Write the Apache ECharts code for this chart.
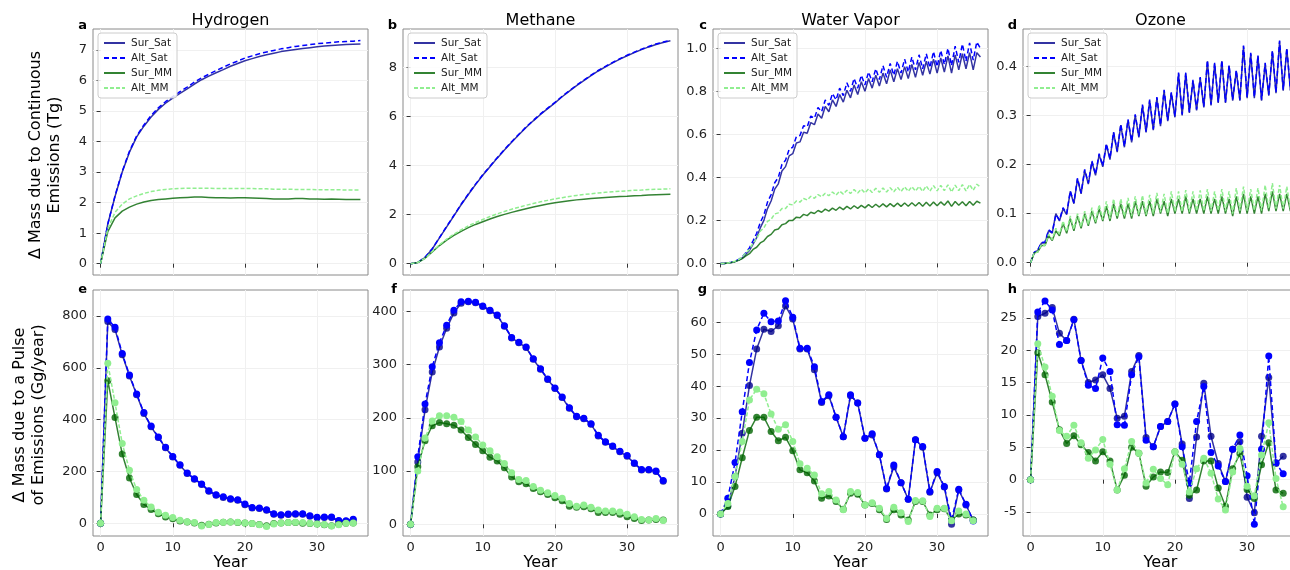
<!DOCTYPE html>
<html><head><meta charset="utf-8">
<script src="https://cdn.jsdelivr.net/npm/echarts@6/dist/echarts.min.js"></script>
<style>html,body{margin:0;padding:0;background:#fff}#chart{width:1290px;height:570px}</style>
</head><body><div id="chart"></div>
<script>
// ---------- x values ----------
const yearsPulse = [0,1,2,3,4,5,6,7,8,9,10,11,12,13,14,15,16,17,18,19,20,21,22,23,24,25,26,27,28,29,30,31,32,33,34,35];
const yearsAnnual = [0,1,2,3,4,5,6,7,8,9,10,11,12,13,14,15,16,17,18,19,20,21,22,23,24,25,26,27,28,29,30,31,32,33,34,35,36];
const yearsHalf = [0,0.5,1,1.5,2,2.5,3,3.5,4,4.5,5,5.5,6,6.5,7,7.5,8,8.5,9,9.5,10,10.5,11,11.5,12,12.5,13,13.5,14,14.5,15,15.5,16,16.5,17,17.5,18,18.5,19,19.5,20,20.5,21,21.5,22,22.5,23,23.5,24,24.5,25,25.5,26,26.5,27,27.5,28,28.5,29,29.5,30,30.5,31,31.5,32,32.5,33,33.5,34,34.5,35,35.5,36];

// ---------- series names / titles ----------
const seriesNames = ['Sur_Sat','Alt_Sat','Sur_MM','Alt_MM'];
const pulseSeriesNames = ['Sur_Sat (pulse)','Alt_Sat (pulse)','Sur_MM (pulse)','Alt_MM (pulse)'];
const speciesTitles = ['Hydrogen','Methane','Water Vapor','Ozone'];
const panelLetters = ['a','b','c','d','e','f','g','h'];

// ---------- tick labels ----------
const xTicks = [0,10,20,30];
const ticksA = [0,1,2,3,4,5,6,7];
const ticksB = [0,2,4,6,8];
const ticksC = [0,0.2,0.4,0.6,0.8,1.0];
const ticksD = [0,0.1,0.2,0.3,0.4];
const ticksE = [0,200,400,600,800];
const ticksF = [0,100,200,300,400];
const ticksG = [0,10,20,30,40,50,60];
const ticksH = [-5,0,5,10,15,20,25];

// ---------- a: Hydrogen, continuous (Tg) ----------
const h2SurSat = [0,1.3,2.2,3.0,3.65,4.15,4.5,4.8,5.05,5.25,5.42,5.57,5.72,5.88,6.02,6.14,6.25,6.35,6.46,6.55,6.64,6.71,6.78,6.84,6.89,6.94,6.98,7.01,7.04,7.07,7.1,7.12,7.14,7.16,7.17,7.18,7.19];
const h2AltSat = [0,1.3,2.22,3.02,3.68,4.18,4.54,4.85,5.1,5.3,5.47,5.63,5.78,5.94,6.08,6.2,6.32,6.43,6.54,6.63,6.73,6.8,6.87,6.93,6.98,7.03,7.07,7.11,7.14,7.17,7.2,7.22,7.24,7.26,7.27,7.28,7.3];
const h2SurMM = [0,1.05,1.5,1.72,1.85,1.95,2.02,2.07,2.1,2.12,2.14,2.16,2.17,2.18,2.18,2.17,2.16,2.16,2.15,2.16,2.16,2.15,2.14,2.13,2.12,2.12,2.12,2.13,2.13,2.12,2.12,2.11,2.12,2.11,2.1,2.1,2.1];
const h2AltMM = [0,1.15,1.68,1.95,2.12,2.22,2.3,2.36,2.4,2.43,2.45,2.46,2.47,2.47,2.47,2.47,2.46,2.46,2.46,2.46,2.46,2.46,2.45,2.45,2.44,2.44,2.44,2.43,2.43,2.43,2.42,2.42,2.42,2.42,2.41,2.41,2.41];

// ---------- b: Methane, continuous (Tg) ----------
const ch4SurSat = [0,0.05,0.25,0.6,1.05,1.5,1.95,2.4,2.82,3.22,3.6,3.95,4.3,4.63,4.95,5.25,5.55,5.82,6.08,6.32,6.55,6.8,7.03,7.25,7.46,7.66,7.85,8.02,8.18,8.33,8.47,8.6,8.72,8.83,8.93,9.01,9.08];
const ch4AltSat = [0,0.05,0.26,0.61,1.06,1.52,1.97,2.42,2.84,3.24,3.62,3.97,4.32,4.65,4.97,5.27,5.57,5.84,6.1,6.34,6.57,6.82,7.05,7.27,7.48,7.68,7.87,8.04,8.2,8.35,8.49,8.62,8.74,8.85,8.95,9.03,9.1];
const ch4SurMM = [0,0.05,0.22,0.48,0.74,0.96,1.15,1.32,1.47,1.6,1.71,1.82,1.92,2.01,2.09,2.17,2.24,2.31,2.37,2.43,2.48,2.52,2.56,2.6,2.63,2.66,2.68,2.7,2.72,2.74,2.75,2.77,2.78,2.8,2.81,2.82,2.83];
const ch4AltMM = [0,0.05,0.22,0.5,0.77,1.0,1.2,1.38,1.54,1.68,1.8,1.92,2.03,2.13,2.22,2.3,2.38,2.45,2.52,2.58,2.64,2.69,2.74,2.78,2.82,2.85,2.88,2.91,2.93,2.95,2.97,2.99,3.0,3.02,3.03,3.04,3.05];

// ---------- c: Water vapor, continuous (Tg), half-year ----------
const h2oSurSat = [0,0,0.002,0.004,0.008,0.015,0.025,0.042,0.06,0.09,
 0.12,0.165,0.2,0.255,0.29,0.345,0.37,0.43,0.45,0.5,
 0.51,0.56,0.565,0.61,0.605,0.655,0.645,0.695,0.675,0.73,
 0.705,0.76,0.73,0.785,0.75,0.805,0.77,0.83,0.785,0.845,
 0.8,0.86,0.815,0.875,0.825,0.885,0.835,0.9,0.845,0.905,
 0.855,0.915,0.86,0.925,0.865,0.935,0.875,0.94,0.88,0.95,
 0.885,0.955,0.89,0.965,0.885,0.97,0.9,0.975,0.905,0.98,
 0.9,0.98,0.96];
const h2oAltSat = [0,0,0.002,0.005,0.01,0.018,0.03,0.05,0.072,0.105,
 0.14,0.19,0.225,0.285,0.32,0.375,0.4,0.46,0.48,0.53,
 0.54,0.59,0.595,0.64,0.635,0.685,0.675,0.725,0.705,0.76,
 0.735,0.79,0.76,0.815,0.78,0.84,0.8,0.86,0.815,0.875,
 0.83,0.89,0.845,0.905,0.855,0.92,0.865,0.93,0.875,0.94,
 0.885,0.95,0.89,0.96,0.9,0.97,0.905,0.975,0.91,0.985,
 0.915,0.99,0.925,1.0,0.92,1.01,0.935,1.02,0.94,1.025,
 0.945,1.03,1.0];
const h2oSurMM = [0,0,0.002,0.004,0.008,0.014,0.022,0.035,0.045,0.065,
 0.075,0.095,0.105,0.125,0.135,0.155,0.16,0.18,0.185,0.2,
 0.2,0.215,0.212,0.228,0.222,0.238,0.232,0.246,0.238,0.252,
 0.243,0.257,0.247,0.262,0.25,0.265,0.253,0.268,0.256,0.27,
 0.258,0.273,0.26,0.275,0.262,0.277,0.263,0.278,0.264,0.28,
 0.265,0.281,0.266,0.282,0.267,0.283,0.266,0.284,0.267,0.285,
 0.268,0.286,0.27,0.29,0.265,0.288,0.27,0.287,0.268,0.288,
 0.27,0.289,0.28];
const h2oAltMM = [0,0,0.002,0.005,0.01,0.018,0.03,0.048,0.065,0.095,
 0.115,0.15,0.165,0.195,0.205,0.23,0.235,0.255,0.255,0.275,
 0.272,0.29,0.285,0.302,0.295,0.312,0.303,0.32,0.31,0.326,
 0.315,0.332,0.318,0.336,0.322,0.34,0.325,0.343,0.327,0.345,
 0.328,0.347,0.33,0.349,0.331,0.351,0.332,0.352,0.333,0.354,
 0.334,0.356,0.335,0.357,0.336,0.358,0.335,0.36,0.336,0.362,
 0.337,0.363,0.338,0.365,0.332,0.364,0.338,0.366,0.337,0.367,
 0.34,0.368,0.355];

// ---------- d: Ozone, continuous (Tg), half-year ----------
const o3SurSat = [0,0.02,0.025,0.04,0.04,0.065,0.06,0.1,0.085,0.11,
 0.098,0.145,0.12,0.17,0.14,0.188,0.16,0.205,0.178,0.22,
 0.195,0.24,0.21,0.265,0.225,0.28,0.235,0.29,0.245,0.3,
 0.255,0.32,0.265,0.33,0.27,0.335,0.278,0.35,0.288,0.345,
 0.296,0.385,0.3,0.385,0.305,0.37,0.31,0.376,0.316,0.41,
 0.32,0.405,0.325,0.41,0.325,0.4,0.33,0.39,0.33,0.44,
 0.335,0.425,0.335,0.42,0.33,0.405,0.34,0.43,0.345,0.45,
 0.35,0.435,0.35];
const o3AltSat = [0,0.021,0.026,0.041,0.042,0.067,0.062,0.098,0.087,0.112,
 0.1,0.146,0.122,0.172,0.142,0.19,0.162,0.207,0.18,0.222,
 0.197,0.242,0.212,0.266,0.227,0.282,0.237,0.292,0.247,0.302,
 0.257,0.322,0.267,0.332,0.272,0.337,0.28,0.352,0.29,0.347,
 0.298,0.387,0.302,0.387,0.307,0.372,0.312,0.378,0.318,0.412,
 0.322,0.407,0.327,0.412,0.327,0.402,0.332,0.392,0.332,0.442,
 0.337,0.427,0.337,0.422,0.332,0.407,0.342,0.432,0.347,0.452,
 0.352,0.437,0.352];
const o3SurMM = [0,0.02,0.022,0.035,0.035,0.055,0.045,0.065,0.055,0.08,
 0.06,0.09,0.065,0.095,0.07,0.1,0.075,0.105,0.08,0.11,
 0.085,0.115,0.085,0.12,0.09,0.12,0.09,0.12,0.09,0.125,
 0.095,0.125,0.095,0.125,0.095,0.13,0.1,0.125,0.095,0.13,
 0.1,0.13,0.1,0.135,0.1,0.13,0.1,0.13,0.1,0.135,
 0.1,0.13,0.1,0.135,0.1,0.13,0.095,0.135,0.1,0.14,
 0.1,0.135,0.1,0.135,0.1,0.14,0.105,0.145,0.105,0.14,
 0.105,0.14,0.105];
const o3AltMM = [0,0.02,0.022,0.037,0.035,0.058,0.047,0.07,0.058,0.085,
 0.063,0.095,0.068,0.1,0.073,0.105,0.078,0.112,0.083,0.118,
 0.088,0.125,0.09,0.13,0.093,0.13,0.094,0.132,0.095,0.135,
 0.098,0.137,0.098,0.138,0.1,0.142,0.103,0.14,0.1,0.145,
 0.104,0.145,0.104,0.148,0.104,0.145,0.105,0.147,0.105,0.15,
 0.105,0.145,0.106,0.15,0.105,0.145,0.1,0.152,0.106,0.155,
 0.106,0.15,0.106,0.152,0.106,0.158,0.11,0.162,0.11,0.158,
 0.11,0.155,0.11];

// ---------- e: Hydrogen pulse (Gg/year) ----------
const h2PulseSurSat = [0,778,748,650,568,496,424,372,331,291,256,224,192,170,150,124,108,100,93,89,72,59,57,50,35,31,34,35,35,27,21,22,22,9,8,14];
const h2PulseAltSat = [0,788,756,655,572,499,427,375,333,293,258,226,194,172,152,126,110,102,95,91,74,61,59,52,37,33,36,37,37,29,23,24,24,11,10,16];
const h2PulseSurMM = [0,550,408,267,175,111,73,53,37,24,18,9,5,1,-8,-4,1,4,5,3,1,-1,-5,-9,-1,1,3,3,0,-1,-3,-6,-9,-4,0,1];
const h2PulseAltMM = [0,617,465,308,205,130,89,63,43,31,22,12,6,3,-10,-5,3,4,5,4,1,-1,-6,-12,-3,1,3,4,3,0,-3,-5,-10,-6,0,1];

// ---------- f: Methane pulse (Gg/year) ----------
const ch4PulseSurSat = [0,117,215,286,333,368,397,415,418,416,409,401,392,372,350,341,332,310,291,272,255,238,218,202,198,188,166,154,146,136,128,114,102,102,99,81];
const ch4PulseAltSat = [0,127,226,296,341,374,402,418,419,417,410,402,393,373,351,342,333,311,292,273,256,239,219,203,199,189,167,155,147,137,129,115,103,103,100,82];
const ch4PulseSurMM = [0,108,157,185,191,189,186,177,163,150,138,126,119,106,89,80,76,67,61,56,50,44,34,32,33,29,22,22,22,19,14,11,7,8,9,8];
const ch4PulseAltMM = [0,100,162,194,204,204,201,193,177,164,149,138,127,114,97,84,82,71,64,59,54,49,39,34,36,32,27,25,25,23,19,14,9,8,11,7];

// ---------- g: Water vapor pulse (Gg/year) ----------
const h2oPulseSurSat = [0,2.5,11.7,25.3,40.2,51.6,57.8,57.1,58.9,65.1,61.0,51.6,51.6,45.1,34.9,37.0,30.3,24.2,37.0,34.7,23.7,24.7,18.5,7.8,14.8,9.8,4.6,23.2,20.9,6.8,12.9,8.4,-3.2,7.5,2.8,-1.9];
const h2oPulseAltSat = [0,4.9,16.1,32.0,47.4,57.6,62.8,60.2,60.4,66.7,61.6,51.9,51.9,46.1,35.2,37.3,30.3,24.2,37.3,34.7,23.7,25.1,18.5,8.0,15.3,9.8,4.6,23.2,21.1,7.0,13.3,8.6,-1.9,7.7,3.0,-2.2];
const h2oPulseSurMM = [0,2.3,8.6,17.6,26.1,30.3,30.3,25.8,22.9,24.0,19.8,13.8,12.9,10.3,4.9,5.6,3.9,1.5,6.5,6.2,2.8,3.3,1.3,-1.7,1.3,-0.3,-1.9,3.9,3.9,-0.3,1.3,1.6,-1.9,0,-0.3,-1.9];
const h2oPulseAltMM = [0,3.3,11.7,22.7,35.7,39.0,37.6,31.3,26.5,27.9,22.7,15.7,14.3,12.2,6.3,7.0,4.4,1.3,7.0,6.7,2.8,3.5,1.8,-1.4,2.1,0.4,-2.4,4.2,4.1,-0.8,1.8,1.8,-2.1,0.9,0,-2.1];

// ---------- h: Ozone pulse (Gg/year) ----------
const o3PulseSurSat = [0,25.2,25.7,26.6,22.6,21.5,24.8,18.4,15.0,15.4,16.2,14.1,9.5,9.8,16.7,19.2,6.5,5.1,8.2,9.0,11.7,5.5,-2.9,6.6,14.9,6.7,2.5,-0.3,4.7,5.9,-2.7,-5.1,6.7,15.8,2.5,3.6];
const o3PulseAltSat = [0,25.9,27.6,26.2,20.9,21.5,24.7,18.4,14.6,14.1,18.8,16.7,8.5,8.4,16.2,19.0,6.1,5.1,8.2,9.0,11.7,5.1,-0.5,9.0,14.4,4.2,2.1,-0.3,4.7,6.9,0.6,-6.9,4.7,19.1,2.6,0.9];
const o3PulseSurMM = [0,19.6,16.2,12.0,7.7,5.6,6.8,5.4,4.2,2.9,4.3,2.9,-1.6,0.7,5.0,4.1,-1.0,0.4,1.2,1.1,4.3,3.0,-2.4,-1.6,2.9,2.9,-1.3,-4.1,1.7,4.0,-1.5,-2.9,2.3,5.7,-1.6,-2.1];
const o3PulseAltMM = [0,21.0,17.4,12.9,7.6,6.7,8.4,5.7,3.3,4.6,6.2,2.4,-1.6,1.7,5.9,4.1,-0.5,1.6,0.2,-0.8,4.3,2.4,-1.9,1.7,3.3,1.0,-3.0,-4.7,1.2,4.8,-1.0,-2.5,3.8,8.8,0.2,-4.2];

// ---------- panel definitions ----------
const panels = [
  {x: yearsAnnual, ys: [h2SurSat,h2AltSat,h2SurMM,h2AltMM], min:-0.37, max:7.68, ticks:ticksA, dec:0},
  {x: yearsAnnual, ys: [ch4SurSat,ch4AltSat,ch4SurMM,ch4AltMM], min:-0.46, max:9.56, ticks:ticksB, dec:0},
  {x: yearsHalf, ys: [h2oSurSat,h2oAltSat,h2oSurMM,h2oAltMM], min:-0.054, max:1.09, ticks:ticksC, dec:1},
  {x: yearsHalf, ys: [o3SurSat,o3AltSat,o3SurMM,o3AltMM], min:-0.025, max:0.4757, ticks:ticksD, dec:1},
  {x: yearsPulse, ys: [h2PulseSurSat,h2PulseAltSat,h2PulseSurMM,h2PulseAltMM], min:-49, max:900, ticks:ticksE, dec:0},
  {x: yearsPulse, ys: [ch4PulseSurSat,ch4PulseAltSat,ch4PulseSurMM,ch4PulseAltMM], min:-22, max:440, ticks:ticksF, dec:0},
  {x: yearsPulse, ys: [h2oPulseSurSat,h2oPulseAltSat,h2oPulseSurMM,h2oPulseAltMM], min:-6.9, max:70.1, ticks:ticksG, dec:0},
  {x: yearsPulse, ys: [o3PulseSurSat,o3PulseAltSat,o3PulseSurMM,o3PulseAltMM], min:-8.7, max:29.3, ticks:ticksH, dec:0}
];

const seriesStyle = [
  {color:'#00008b', dash:'solid', opacity:0.8},
  {color:'#0000ff', dash:[5,3], opacity:1},
  {color:'#006400', dash:'solid', opacity:0.8},
  {color:'#90ee90', dash:[4,2], opacity:1}
];

const FONT = 'DejaVu Sans';
const grids = [], xAxes = [], yAxes = [], legends = [], graphics = [];
const topSeries = [], bottomSeries = [];

panels.forEach((p, i) => {
  const row = i < 4 ? 0 : 1, col = i % 4;
  const left = 93 + 310 * col, top = row === 0 ? 29 : 290;
  grids.push({left: left, top: top, width: 275, height: 246, show: true,
    borderColor: '#8a8a8a', borderWidth: 1, backgroundColor: 'transparent',
    containLabel: false, outerBoundsMode: 'none'});
  xAxes.push({gridIndex: i, type: 'value', min: -1.05, max: 37.05,
    axisLine: {show: false},
    axisTick: {show: true, length: 4, customValues: xTicks, lineStyle: {color: '#333'}},
    axisLabel: {show: row === 1, customValues: xTicks, fontSize: 13, color: '#222', fontFamily: FONT, margin: 5},
    splitLine: {show: true, lineStyle: {color: '#f0f0f0', width: 1}},
    name: row === 1 ? 'Year' : '', nameLocation: 'middle', nameGap: 15,
    nameTextStyle: {fontSize: 16, color: '#000', fontFamily: FONT}});
  yAxes.push({gridIndex: i, type: 'value', min: p.min, max: p.max,
    axisLine: {show: false},
    axisTick: {show: true, length: 4, customValues: p.ticks, lineStyle: {color: '#333'}},
    axisLabel: {customValues: p.ticks, fontSize: 13, color: '#222', fontFamily: FONT, margin: 6,
      formatter: (v) => Number(v).toFixed(p.dec)},
    splitLine: {show: true, lineStyle: {color: '#f0f0f0', width: 1}}});
  p.ys.forEach((vals, s) => {
    const st = seriesStyle[s];
    const item = {
      name: row === 0 ? seriesNames[s] : pulseSeriesNames[s],
      type: 'line', xAxisIndex: i, yAxisIndex: i,
      data: p.x.map((xv, k) => [xv, vals[k]]),
      animation: false, silent: true, z: 2 + s,
      lineStyle: {color: st.color, width: 1.5, type: st.dash, opacity: st.opacity},
      itemStyle: {color: st.color, opacity: st.opacity}
    };
    if (row === 0) {
      item.symbol = 'none';
      item.showSymbol = false;
      topSeries.push(item);
    } else {
      item.symbol = 'circle';
      item.symbolSize = 7;
      item.showSymbol = true;
      bottomSeries.push(item);
    }
  });
  if (row === 0) {
    legends.push({show: true, orient: 'vertical', left: left + 5, top: 33,
      data: seriesNames.slice(), itemWidth: 21, itemHeight: 10, itemGap: 3,
      padding: [4, 5, 4, 5], backgroundColor: 'rgba(255,255,255,0.85)',
      borderColor: '#cccccc', borderWidth: 1, borderRadius: 3, selectedMode: false,
      itemStyle: {color: 'rgba(0,0,0,0)', borderColor: 'rgba(0,0,0,0)', borderWidth: 0, opacity: 0},
      textStyle: {fontSize: 10.5, color: '#222', fontFamily: FONT, lineHeight: 12, padding: [0, 0, 0, 1]}});
    graphics.push({type: 'text', x: left + 137.5, y: 20.5, silent: true,
      style: {text: speciesTitles[col], fontSize: 16, fontFamily: FONT, fill: '#000', align: 'center', verticalAlign: 'middle'}});
  }
  graphics.push({type: 'text', x: left - 6, y: row === 0 ? 26 : 290, silent: true,
    style: {text: panelLetters[i], fontSize: 13, fontWeight: 'bold', fontFamily: FONT, fill: '#000', align: 'right', verticalAlign: 'middle'}});
});

graphics.push({type: 'text', x: 45, y: 155, rotation: Math.PI / 2, silent: true,
  style: {text: 'Δ Mass due to Continuous\nEmissions (Tg)', fontSize: 16, fontFamily: FONT, fill: '#000', align: 'center', verticalAlign: 'middle', lineHeight: 19}});
graphics.push({type: 'text', x: 29, y: 415, rotation: Math.PI / 2, silent: true,
  style: {text: 'Δ Mass due to a Pulse\nof Emissions (Gg/year)', fontSize: 16, fontFamily: FONT, fill: '#000', align: 'center', verticalAlign: 'middle', lineHeight: 19}});

const chart = echarts.init(document.getElementById('chart'), null, {renderer: 'canvas'});
chart.setOption({
  animation: false,
  backgroundColor: '#ffffff',
  textStyle: {fontFamily: FONT},
  grid: grids, xAxis: xAxes, yAxis: yAxes,
  legend: legends,
  series: topSeries.concat(bottomSeries),
  graphic: graphics
});
</script></body></html>
